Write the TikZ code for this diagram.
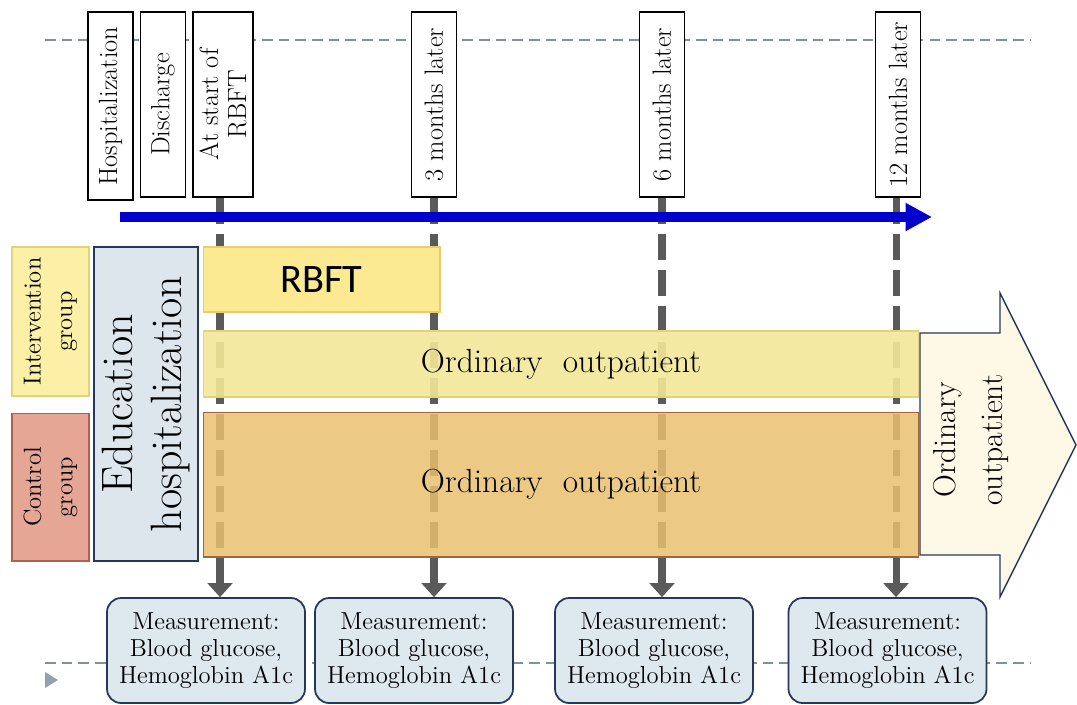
\documentclass[tikz,border=0pt]{standalone}
\usepackage{fontspec}
\newfontfamily\rbftfont{Carlito}
\usetikzlibrary{arrows.meta,positioning}
\definecolor{guide}{HTML}{7F90A3}
\definecolor{navy}{HTML}{263859}
\definecolor{measfill}{HTML}{DEE8EF}
\definecolor{tickgray}{HTML}{5A5A5A}
\definecolor{timeblue}{HTML}{0000CD}
\definecolor{igfill}{HTML}{FCEFA6}
\definecolor{igdraw}{HTML}{E3D27A}
\definecolor{cgfill}{HTML}{E6A696}
\definecolor{cgdraw}{HTML}{B0604E}
\definecolor{edufill}{HTML}{DCE6EC}
\definecolor{rbftfill}{HTML}{FBEA92}
\definecolor{rbftdraw}{HTML}{E5CF6A}
\definecolor{oifill}{HTML}{F3E798}
\definecolor{ocfill}{HTML}{E9BF70}
\definecolor{ocdraw}{HTML}{A5643A}
\definecolor{cream}{HTML}{FEF8E6}

\begin{document}
\begin{tikzpicture}
          [x=0.02cm, y=-0.02cm,
           every node/.style={inner sep=0pt, align=center},
           lbl/.style={draw, fill=white, rotate=90, line width=0.8pt,
             minimum width=3.7cm, minimum height=0.9cm,
             font=\fontsize{15}{16}\selectfont},
           meas/.style={draw=navy, fill=measfill, rounded corners=8pt,
             line width=1pt, minimum width=3.96cm, minimum height=2.1cm,
             font=\fontsize{14}{15.5}\selectfont},
           mline/.style={draw=tickgray, line width=4pt,
             dash pattern=on 15pt off 5.5pt,
             -{Triangle[width=14pt, length=8pt]}},
           bar/.style={draw=#1, line width=0.6pt}]
          \useasboundingbox (0,0) rectangle (1077,704);

          % guide lines
          \draw[guide, line width=1.1pt, dash pattern=on 6pt off 3.5pt]
            (45,40) -- (1030,40);
          \draw[guide, line width=1.1pt, dash pattern=on 6pt off 3.5pt]
            (45,663) -- (1030,663);
          \fill[guide!85] (45,672) -- (58,680) -- (45,688) -- cycle;

          \node (hosp) [lbl, minimum width=3.76cm] at (110.5,106) {Hospitalization};
          \node (dis) [lbl] at (163,104.5) {Discharge};
          \node (st) [lbl, minimum height=1.2cm] at (223,104.5) {At start of\\RBFT};
          \node (m3) [lbl] at (434,104.5) {3 months later};
          \node (m6) [lbl] at (662,104.5) {6 months later};
          \node (m12) [lbl] at (898,104.5) {12 months later};

          \node (ma) [meas] at (206,650.5) {Measurement:\\Blood glucose,\\Hemoglobin A1c};
          \node (mb) [meas] at (414,650.5) {Measurement:\\Blood glucose,\\Hemoglobin A1c};
          \node (mc) [meas] at (654,650.5) {Measurement:\\Blood glucose,\\Hemoglobin A1c};
          \node (md) [meas] at (887.5,650.5) {Measurement:\\Blood glucose,\\Hemoglobin A1c};

          \draw[mline] ([xshift=-0.06cm]st.west) -- ([xshift=-0.06cm]st.west |- ma.north);
          \draw[mline] (m3.west) -- (m3.west |- mb.north);
          \draw[mline] (m6.west) -- (m6.west |- mc.north);
          \draw[mline] ([xshift=-0.04cm]m12.west) -- ([xshift=-0.04cm]m12.west |- md.north);

          \coordinate (ts) at (120,217);
          \coordinate (te) at (932,217);
          \draw[timeblue, line width=5.7pt, -{Triangle[width=15pt, length=15pt]}] (ts) -- (te);

          \node (ig) [bar=igdraw, fill=igfill, rotate=90, minimum width=2.98cm,
            minimum height=1.54cm, font=\fontsize{14}{18}\selectfont]
            at (50.5,321.5) {Intervention\\group};
          \node (cg) [bar=cgdraw, fill=cgfill, rotate=90, minimum width=2.96cm,
            minimum height=1.54cm, font=\fontsize{14}{18}\selectfont]
            at (50.5,487) {Control\\group};
          \node (edu) [bar=navy, fill=edufill, rotate=90, minimum width=6.28cm,
            minimum height=2.08cm, line width=1pt, font=\fontsize{25}{28}\selectfont]
            at (146,404) {Education\\hospitalization};
          \node (rbft) [bar=rbftdraw, fill=rbftfill, minimum width=4.74cm,
            minimum height=1.3cm, font=\rbftfont\fontsize{23}{26}\selectfont]
            at (321.5,279.5) {RBFT};

          % arrow on the right
          \draw[navy, fill=cream, line width=0.8pt] (920,333) -- (1000,333) -- (1000,293)
            -- (1076,445) -- (1000,597) -- (1000,555) -- (920,555) -- cycle;
          \node (oa) [rotate=90, font=\fontsize{18}{27}\selectfont] at (971,440)
            {Ordinary\\outpatient};

          \node (oi) [bar=igdraw, fill=oifill, fill opacity=0.9, text opacity=1,
            minimum width=14.32cm, minimum height=1.32cm,
            font=\fontsize{19}{22}\selectfont] at (561,364) {Ordinary\ \ outpatient};
          \node (oc) [bar=ocdraw, fill=ocfill, fill opacity=0.85, text opacity=1,
            minimum width=14.32cm, minimum height=2.9cm,
            font=\fontsize{19}{22}\selectfont] at (561,484.5) {Ordinary\ \ outpatient};

        \end{tikzpicture}
\end{document}
